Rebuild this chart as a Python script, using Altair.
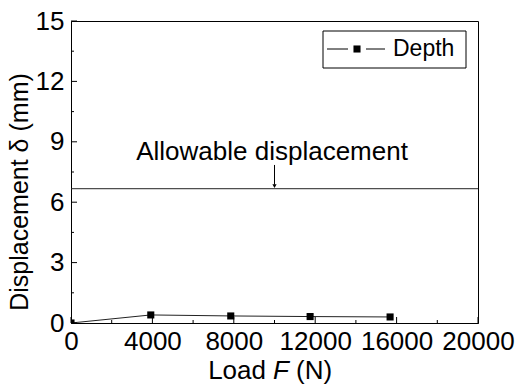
import altair as alt
import pandas as pd

# ---- data ----
load = [0, 3920, 7850, 11750, 15680]
depth = [0.0, 0.40, 0.35, 0.32, 0.30]
series = ["Depth"] * len(load)
allowable = 6.67
x_major = [0, 4000, 8000, 12000, 16000, 20000]
x_minor = [2000, 6000, 10000, 14000, 18000]
y_major = [0, 3, 6, 9, 12, 15]
y_minor = [1.5, 4.5, 7.5, 10.5, 13.5]
annot_text = ["Allowable displacement"]
annot_x = [9880]
annot_y = [8.1]
arrow_x = [10000]
arrow_top = [7.85]

W, H = 407, 302
FONT = "Liberation Sans"
FS = 26

df = pd.DataFrame({"Load": load, "Depth": depth, "series": series})

xs = alt.Scale(domain=[0, 20000], nice=False, zero=False)
ys = alt.Scale(domain=[0, 15], nice=False, zero=False)

x_axis = alt.Axis(values=x_major, ticks=False, labelFontSize=FS, labelFont=FONT,
                  labelColor="black", labelPadding=5, domainColor="black",
                  grid=False, title=None, labelFlush=False, labelOverlap=False,
                  format="d")
y_axis = alt.Axis(values=y_major, ticks=False, labelFontSize=FS, labelFont=FONT,
                  labelColor="black", labelPadding=7, domainColor="black",
                  grid=False, title=None, labelFlush=False, labelOverlap=False,
                  format="d")

base = alt.Chart(df)

line = base.mark_line(color="#222222", strokeWidth=1, clip=True).encode(
    x=alt.X("Load:Q", scale=xs, axis=x_axis),
    y=alt.Y("Depth:Q", scale=ys, axis=y_axis),
)
pts = base.mark_point(shape="square", filled=True, color="black", size=50,
                      opacity=1, clip=True).encode(
    x=alt.X("Load:Q", scale=xs), y=alt.Y("Depth:Q", scale=ys))

hline = alt.Chart(pd.DataFrame({"v": [allowable]})).mark_rule(
    color="#222222", strokeWidth=1).encode(y=alt.Y("v:Q", scale=ys))

adf = pd.DataFrame({"t": annot_text, "x": annot_x, "y": annot_y})
annot = alt.Chart(adf).mark_text(font=FONT, fontSize=26, color="black",
                                 align="center", baseline="alphabetic").encode(
    x=alt.X("x:Q", scale=xs), y=alt.Y("y:Q", scale=ys), text="t:N")

ardf = pd.DataFrame({"x": arrow_x, "y": arrow_top, "y2": [allowable + 0.2]})
arrow = alt.Chart(ardf).mark_rule(color="black", strokeWidth=1).encode(
    x=alt.X("x:Q", scale=xs), y=alt.Y("y:Q", scale=ys), y2="y2:Q")
ahdf = pd.DataFrame({"x": arrow_x, "y": [allowable + 0.13]})
ahead = alt.Chart(ahdf).mark_point(shape="triangle-down", filled=True,
                                   color="black", size=18, opacity=1).encode(
    x=alt.X("x:Q", scale=xs), y=alt.Y("y:Q", scale=ys))

# inside ticks
xmaj = alt.Chart(pd.DataFrame({"v": x_major})).mark_rule(color="black").encode(
    x=alt.X("v:Q", scale=xs), y=alt.value(H), y2=alt.value(H - 6))
xmin = alt.Chart(pd.DataFrame({"v": x_minor})).mark_rule(color="black").encode(
    x=alt.X("v:Q", scale=xs), y=alt.value(H), y2=alt.value(H - 3))
ymaj = alt.Chart(pd.DataFrame({"v": y_major})).mark_rule(color="black").encode(
    y=alt.Y("v:Q", scale=ys), x=alt.value(0), x2=alt.value(6))
ymin = alt.Chart(pd.DataFrame({"v": y_minor})).mark_rule(color="black").encode(
    y=alt.Y("v:Q", scale=ys), x=alt.value(0), x2=alt.value(3))

# axis titles
ytitle = alt.Chart(pd.DataFrame({"t": ["Displacement δ (mm)"]})).mark_text(
    font=FONT, fontSize=25, angle=270, align="center", baseline="middle",
    color="black").encode(text="t:N", x=alt.value(-51), y=alt.value(171))
xt1 = alt.Chart(pd.DataFrame({"t": ["Load"]})).mark_text(
    font=FONT, fontSize=FS, align="right", baseline="alphabetic",
    color="black").encode(text="t:N", x=alt.value(195), y=alt.value(358))
xt2 = alt.Chart(pd.DataFrame({"t": ["F"]})).mark_text(
    font=FONT, fontSize=FS, fontStyle="italic", align="center",
    baseline="alphabetic", color="black").encode(
    text="t:N", x=alt.value(210), y=alt.value(358))
xt3 = alt.Chart(pd.DataFrame({"t": ["(N)"]})).mark_text(
    font=FONT, fontSize=FS, align="left", baseline="alphabetic",
    color="black").encode(text="t:N", x=alt.value(225), y=alt.value(358))

# legend (manual box)
lg_box = alt.Chart(pd.DataFrame({"a": [0]})).mark_rect(
    fill="white", stroke="black", strokeWidth=1).encode(
    x=alt.value(252), x2=alt.value(395), y=alt.value(10), y2=alt.value(47))
lg_l1 = alt.Chart(pd.DataFrame({"a": [0]})).mark_rule(color="black").encode(
    x=alt.value(256), x2=alt.value(277), y=alt.value(28))
lg_l2 = alt.Chart(pd.DataFrame({"a": [0]})).mark_rule(color="black").encode(
    x=alt.value(295), x2=alt.value(314), y=alt.value(28))
lg_sq = alt.Chart(pd.DataFrame({"a": [0]})).mark_point(
    shape="square", filled=True, color="black", size=50, opacity=1).encode(
    x=alt.value(286), y=alt.value(28))
lg_tx = alt.Chart(pd.DataFrame({"t": series[:1]})).mark_text(
    font=FONT, fontSize=23, align="left", baseline="middle",
    color="black").encode(text="t:N", x=alt.value(322), y=alt.value(28))

chart = alt.layer(
    hline, line, pts, annot, arrow, ahead, xmaj, xmin, ymaj, ymin,
    ytitle, xt1, xt2, xt3, lg_box, lg_l1, lg_l2, lg_sq, lg_tx
).properties(
    width=W, height=H,
    autosize=alt.AutoSizeParams(type="none"),
    padding={"left": 71, "top": 21, "right": 38, "bottom": 63},
    background="white",
).configure_view(stroke="black", strokeWidth=1)

chart.save("out.html", embed_options={"renderer": "svg", "actions": False})
